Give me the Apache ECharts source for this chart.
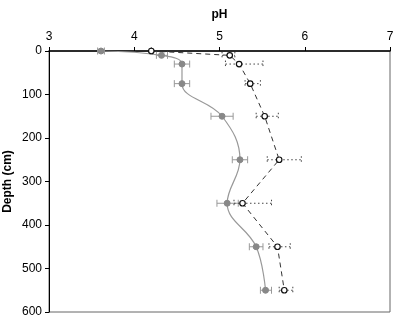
<!DOCTYPE html>
<html>
<head>
<meta charset="utf-8">
<script src="https://cdn.jsdelivr.net/npm/echarts@6/dist/echarts.min.js"></script>
<style>
  html, body { margin: 0; padding: 0; background: #fff; }
  #chart { width: 397px; height: 326px; }
</style>
</head>
<body>
<div id="chart"></div>
<script>
// depth (cm)
const depths = [0, 10, 30, 75, 150, 250, 350, 450, 550]
const depthsOpen = [0, 10, 30, 75, 150, 250, 350, 450, 550]

// pH, filled grey series
const phFilled = [3.61, 4.32, 4.56, 4.56, 5.03, 5.24, 5.09, 5.43, 5.54]
const errFilledLow = [0.04, 0.06, 0.09, 0.09, 0.13, 0.09, 0.12, 0.08, 0.06]
const errFilledHigh = [0.04, 0.07, 0.09, 0.09, 0.13, 0.09, 0.13, 0.08, 0.07]

// pH, open circle series
const phOpen = [4.2, 5.12, 5.23, 5.36, 5.53, 5.70, 5.27, 5.68, 5.76]
const errOpenLow = [0, 0.09, 0.16, 0.06, 0.1, 0.14, 0.1, 0.1, 0.06]
const errOpenHigh = [0, 0.06, 0.28, 0.12, 0.16, 0.26, 0.34, 0.15, 0.1]

const chart = echarts.init(document.getElementById('chart'))

// horizontal error bar with end caps
const errorBar = (color, dash) => (params, api) => {
  const d = api.value(0)
  const a = api.coord([api.value(1), d])
  const b = api.coord([api.value(2), d])
  const style = { stroke: color, lineWidth: 1, lineDash: dash }
  return {
    type: 'group',
    children: [
      { type: 'line', shape: { x1: a[0], y1: a[1], x2: b[0], y2: b[1] }, style },
      { type: 'line', shape: { x1: a[0], y1: a[1] - 3.5, x2: a[0], y2: a[1] + 3.5 }, style },
      { type: 'line', shape: { x1: b[0], y1: b[1] - 3.5, x2: b[0], y2: b[1] + 3.5 }, style }
    ]
  }
}

const font = 'Liberation Sans, Arial, sans-serif'

chart.setOption({
  animation: false,
  grid: {
    left: 49, right: 7, top: 51, bottom: 14,
    outerBoundsMode: 'none',
    containLabel: false,
    show: true, borderColor: '#666', borderWidth: 1
  },
  xAxis: {
    type: 'value',
    position: 'top',
    min: 3, max: 7, interval: 1,
    name: 'pH',
    nameLocation: 'middle',
    nameGap: 30,
    nameMoveOverlap: false,
    nameTextStyle: { fontFamily: font, fontSize: 12, fontWeight: 'bold', color: '#000' },
    axisLine: { show: true, lineStyle: { color: '#000', width: 1.5 } },
    axisTick: { show: true, inside: false, length: 4, lineStyle: { color: '#000' } },
    axisLabel: { fontFamily: font, fontSize: 12, color: '#000', margin: 8 },
    splitLine: { show: false }
  },
  yAxis: {
    type: 'value',
    inverse: true,
    min: 0, max: 600, interval: 100,
    name: 'Depth (cm)',
    nameLocation: 'middle',
    nameGap: 35,
    nameMoveOverlap: false,
    nameRotate: 90,
    nameTextStyle: { fontFamily: font, fontSize: 12, fontWeight: 'bold', color: '#000' },
    axisLine: { show: true, lineStyle: { color: '#000', width: 1 } },
    axisTick: { show: true, length: 4, lineStyle: { color: '#000' } },
    axisLabel: { fontFamily: font, fontSize: 12, color: '#000', margin: 7 },
    splitLine: { show: false }
  },
  series: [
    {
      type: 'custom',
      renderItem: errorBar('#999', null),
      encode: { x: [1, 2], y: 0 },
      data: depths.map((d, i) => [d, phFilled[i] - errFilledLow[i], phFilled[i] + errFilledHigh[i]]),
      z: 1
    },
    {
      type: 'custom',
      renderItem: errorBar('#444', [1.5, 2.5]),
      encode: { x: [1, 2], y: 0 },
      data: depthsOpen.map((d, i) => [d, phOpen[i] - errOpenLow[i], phOpen[i] + errOpenHigh[i]]),
      z: 1
    },
    {
      name: 'filled',
      type: 'line',
      smooth: 0.4,
      data: depths.map((d, i) => [phFilled[i], d]),
      symbol: 'circle',
      symbolSize: 6,
      lineStyle: { color: '#999', width: 1.2 },
      itemStyle: { color: '#888', borderColor: '#888' },
      z: 2
    },
    {
      name: 'open',
      type: 'line',
      data: depthsOpen.map((d, i) => [phOpen[i], d]),
      symbol: 'circle',
      symbolSize: 5.5,
      lineStyle: { color: '#333', width: 1, type: [5, 4] },
      itemStyle: { color: '#fff', borderColor: '#111', borderWidth: 1.2 },
      z: 3
    }
  ]
})
</script>
</body>
</html>
